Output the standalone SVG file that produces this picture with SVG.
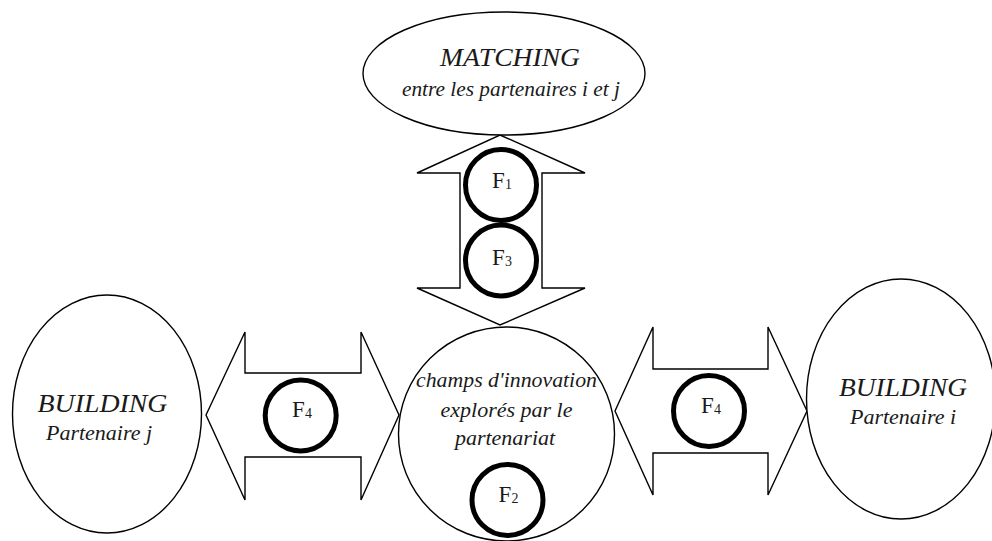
<svg xmlns="http://www.w3.org/2000/svg" width="992" height="541" viewBox="0 0 992 541">
<style>
.shape{fill:#ffffff;stroke:#000000;stroke-width:1.4}
.ring{fill:#ffffff;stroke:#000000;stroke-width:5}
.lab{font-family:"Liberation Serif","Times New Roman",serif;font-style:italic;fill:#1a1a1a;text-anchor:middle}
.cap{font-size:25px}
.low{font-size:22px}
.f{font-family:"Liberation Serif","Times New Roman",serif;font-size:23px;fill:#1a1a1a;text-anchor:middle}
.sub{font-size:14px}
</style>
<rect x="0" y="0" width="992" height="541" fill="#ffffff"/>
<g id="connectors">
  <g id="arrow-vertical">
    <polygon class="shape" points="500,135 585,173 542,173 542,288 585,288 500,325 417,288 460,288 460,173 417,173"/>
    <g id="badge-F1">
      <circle class="ring" cx="501" cy="185" r="35.5"/>
      <text class="f" x="502" y="188">F<tspan class="sub" dy="1">1</tspan></text>
    </g>
    <g id="badge-F3">
      <circle class="ring" cx="501" cy="260.5" r="35.5"/>
      <text class="f" x="502" y="265">F<tspan class="sub" dy="1">3</tspan></text>
    </g>
  </g>
  <g id="arrow-left">
    <polygon class="shape" points="206,415 245,332 245,373 361,373 361,332 399,415 361,500 361,457 245,457 245,500"/>
    <g id="badge-F4-left">
      <circle class="ring" cx="300.7" cy="415.5" r="35.5"/>
      <text class="f" x="302" y="417">F<tspan class="sub" dy="1">4</tspan></text>
    </g>
  </g>
  <g id="arrow-right">
    <polygon class="shape" points="615,411 653,327 653,369 768,369 768,327 807,411 768,495 768,453 653,453 653,495"/>
    <g id="badge-F4-right">
      <circle class="ring" cx="709" cy="411" r="35.5"/>
      <text class="f" x="711" y="413">F<tspan class="sub" dy="1">4</tspan></text>
    </g>
  </g>
</g>
<g id="node-matching">
  <ellipse class="shape" cx="504" cy="73.5" rx="141" ry="61.5"/>
  <text class="lab cap" x="510" y="66" textLength="140" lengthAdjust="spacingAndGlyphs">MATCHING</text>
  <text class="lab low" x="511" y="96" textLength="218" lengthAdjust="spacingAndGlyphs">entre les partenaires i et j</text>
</g>
<g id="node-champs">
  <ellipse class="shape" cx="506.5" cy="434" rx="108" ry="107"/>
  <text class="lab low" x="506.5" y="387" textLength="181" lengthAdjust="spacingAndGlyphs">champs d'innovation</text>
  <text class="lab low" x="506.5" y="417">explorés par le</text>
  <text class="lab low" x="505" y="445">partenariat</text>
  <g id="badge-F2">
    <circle class="ring" cx="507.5" cy="500" r="35.5"/>
    <text class="f" x="508.5" y="501.5">F<tspan class="sub" dy="1">2</tspan></text>
  </g>
</g>
<g id="node-building-j">
  <ellipse class="shape" cx="107" cy="414" rx="94.5" ry="119"/>
  <text class="lab cap" x="102.5" y="412" textLength="130" lengthAdjust="spacingAndGlyphs">BUILDING</text>
  <text class="lab low" x="99" y="440">Partenaire j</text>
</g>
<g id="node-building-i">
  <ellipse class="shape" cx="901" cy="399" rx="94.5" ry="120"/>
  <text class="lab cap" x="903" y="396" textLength="128" lengthAdjust="spacingAndGlyphs">BUILDING</text>
  <text class="lab low" x="903" y="424">Partenaire i</text>
</g>
</svg>
